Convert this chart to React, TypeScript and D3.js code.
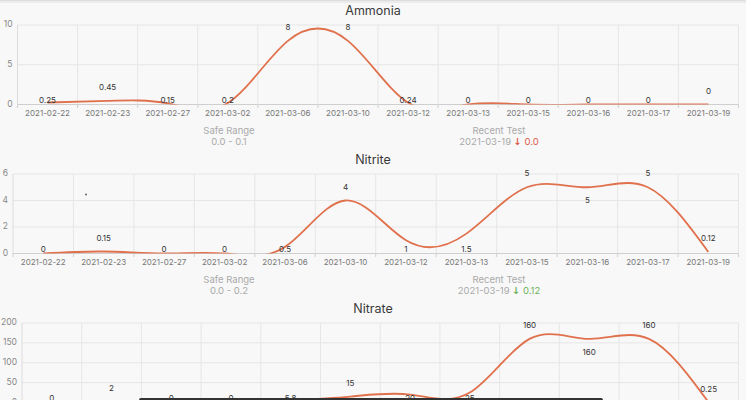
import React from "react";
import * as d3 from "d3";

const categories = [
  "2021-02-22", "2021-02-23", "2021-02-27", "2021-03-02", "2021-03-06", "2021-03-10",
  "2021-03-12", "2021-03-13", "2021-03-15", "2021-03-16", "2021-03-17", "2021-03-19",
];
const ammoniaValues = [0.25, 0.45, 0.15, 0.2, 8, 8, 0.24, 0, 0, 0, 0, 0];
const nitriteValues = [0, 0.15, 0, 0, 0.5, 4, 1, 1.5, 5, 5, 5, 0.12];
const nitrateValues = [0, 2, 0, 0, 5.8, 15, 20, 25, 160, 160, 160, 0.25];
const ammoniaTicks = [0, 5, 10];
const nitriteTicks = [0, 2, 4, 6];
const nitrateTicks = [0, 50, 100, 150, 200];
const ammoniaLabelPlace = ["base", "above", "base", "base", "above", "above", "base", "base", "base", "base", "base", "above"];
const nitriteLabelPlace = ["base", "above", "base", "base", "base", "above", "base", "base", "above", "below", "above", "above"];
const nitrateLabelPlace = ["base", "above", "base", "base", "base", "above", "base", "base", "above", "below", "above", "above"];
const titles = ["Ammonia", "Nitrite", "Nitrate"];
const safeRanges = ["0.0 - 0.1", "0.0 - 0.2", ""];
const recentDates = ["2021-03-19", "2021-03-19", ""];
const recentValues = ["0.0", "0.12", ""];

const W = 746;
const H = 400;
const LINE = "#e0714d";
const FONT = "Inter, 'Noto Sans', sans-serif";

const charts = [
  { title: titles[0], values: ammoniaValues, ticks: ammoniaTicks, place: ammoniaLabelPlace, safe: safeRanges[0], date: recentDates[0], recent: recentValues[0], color: "#e0584a" },
  { title: titles[1], values: nitriteValues, ticks: nitriteTicks, place: nitriteLabelPlace, safe: safeRanges[1], date: recentDates[1], recent: recentValues[1], color: "#6cb35a" },
  { title: titles[2], values: nitrateValues, ticks: nitrateTicks, place: nitrateLabelPlace, safe: safeRanges[2], date: recentDates[2], recent: recentValues[2], color: "#888" },
];

function Chart({ cfg, idx }: { cfg: any; idx: number }) {
  const off = idx * 149;
  const top = 25 + off;
  const bottom = top + 79.5;
  const maxChars = d3.max(cfg.ticks, (t: number) => String(t).length) as number;
  const left = 8.5 + 4.5 * maxChars;
  const right = 738.5;
  const x = d3.scaleBand<string>().domain(categories).range([left, right]);
  const y = d3.scaleLinear().domain([0, d3.max(cfg.ticks) as number]).range([bottom, top]);
  const cx = (i: number) => (x(categories[i]) as number) + x.bandwidth() / 2;
  const line = d3
    .line<number>()
    .x((_, i) => cx(i))
    .y((d) => y(d))
    .curve(d3.curveNatural);
  const clipId = `clip${idx}`;
  const boundaries = categories.map((c) => x(c) as number).concat([right]);
  return (
    <g fontFamily={FONT}>
      <defs>
        <clipPath id={clipId}>
          <rect x={left} y={top - 20} width={right - left} height={bottom - top + 20} />
        </clipPath>
      </defs>
      <text x={373} y={top - 13} textAnchor="middle" dominantBaseline="middle" fontSize={12.5} fill="#3a3a3a">
        {cfg.title}
      </text>
      {cfg.ticks.map((t: number) => (
        <g key={`h${t}`}>
          <line x1={left} x2={right} y1={y(t)} y2={y(t)} stroke={t === 0 ? "#cfcfcf" : "#e6e6e6"} strokeWidth={1} />
          <text x={left - 5} y={y(t)} textAnchor="end" dominantBaseline="middle" fontSize={8.5} fill="#888">
            {t}
          </text>
        </g>
      ))}
      {boundaries.map((b, i) => (
        <g key={`v${i}`}>
          <line x1={b} x2={b} y1={top} y2={bottom} stroke={i === 0 ? "#dcdcdc" : "#e6e6e6"} strokeWidth={1} />
          <line x1={b} x2={b} y1={bottom} y2={bottom + 3.5} stroke="#cfcfcf" strokeWidth={1} />
        </g>
      ))}
      {categories.map((c, i) => (
        <text key={c} x={cx(i)} y={bottom + 9} textAnchor="middle" dominantBaseline="middle" fontSize={8} fill="#777">
          {c}
        </text>
      ))}
      <path d={line(cfg.values) as string} fill="none" stroke={LINE} strokeWidth={1.8} clipPath={`url(#${clipId})`} />
      {cfg.values.map((v: number, i: number) => {
        const p = cfg.place[i];
        const ly = p === "above" ? y(v) - 13 : p === "below" ? y(v) + 13.5 : bottom - 4;
        return (
          <text key={`l${i}`} x={cx(i)} y={ly} textAnchor="middle" dominantBaseline="middle" fontSize={8} fill="#333">
            {v}
          </text>
        );
      })}
      {cfg.safe && (
        <g fontSize={9.5} fill="#aaa" textAnchor="middle">
          <text x={229} y={bottom + 27} dominantBaseline="middle">Safe Range</text>
          <text x={229} y={bottom + 37.5} dominantBaseline="middle">{cfg.safe}</text>
          <text x={499} y={bottom + 27} dominantBaseline="middle">Recent Test</text>
          <text x={499} y={bottom + 37.5} dominantBaseline="middle">
            <tspan fill="#aaa">{cfg.date} </tspan>
            <tspan fill={cfg.color} fontFamily="'DejaVu Sans'" fontWeight="bold">↓</tspan>
            <tspan fill={cfg.color}> {cfg.recent}</tspan>
          </text>
        </g>
      )}
    </g>
  );
}

export default function App() {
  return (
    <svg width={W} height={H} style={{ position: "absolute", left: 0, top: 0, background: "#f8f8f8" }}>
      <rect x={0} y={0} width={W} height={H} fill="#f8f8f8" />
      <rect x={0} y={0} width={W} height={1.5} fill="#dedede" />
      <rect x={0} y={1.5} width={W} height={1.5} fill="#ececec" />
      {charts.map((c, i) => (
        <Chart key={c.title} cfg={c} idx={i} />
      ))}
      <circle cx={86} cy={194.5} r={0.9} fill="#555" />
      <rect x={139} y={398} width={464} height={4} rx={2} fill="#333" />
    </svg>
  );
}
